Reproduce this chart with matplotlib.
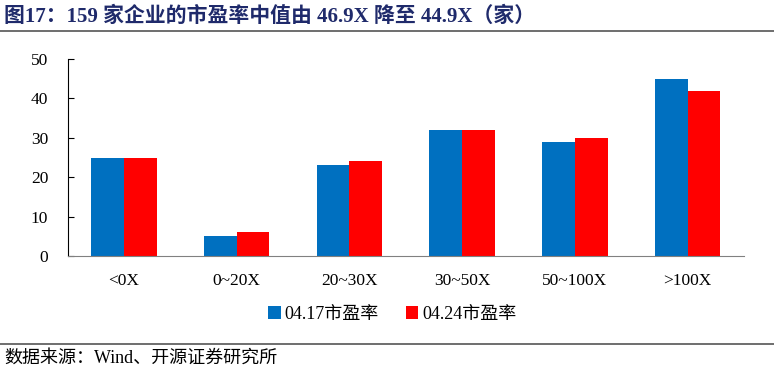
import matplotlib.pyplot as plt
import numpy as np

plt.rcParams['font.family'] = ['Liberation Serif', 'Noto Sans CJK SC', 'DejaVu Sans']

categories = ["<0X", "0~20X", "20~30X", "30~50X", "50~100X", ">100X"]
pe_0417 = [25, 5, 23, 32, 29, 45]
pe_0424 = [25, 6, 24, 32, 30, 42]
series_names = ["04.17市盈率", "04.24市盈率"]

fig = plt.figure(figsize=(7.74, 3.74), dpi=100)
ax = fig.add_axes([0.0873, 0.3155, 0.874, 0.5267])

x = np.arange(len(categories))
w = 0.29
ax.bar(x - w / 2, pe_0417, width=w, color="#0070C0", label=series_names[0])
ax.bar(x + w / 2, pe_0424, width=w, color="#FF0000", label=series_names[1])

ax.set_xlim(-0.5, len(categories) - 0.5)
ax.set_ylim(0, 50)
ax.set_yticks(range(0, 51, 10))
ax.set_xticks(x)
ax.set_xticklabels(categories, fontsize=12.5)
ax.tick_params(axis="y", direction="in", length=4, labelsize=12.5, pad=14)
ax.tick_params(axis="x", length=0, pad=12)
for s in ["top", "right"]:
    ax.spines[s].set_visible(False)
ax.spines["left"].set_color("black")
ax.spines["bottom"].set_color("#808080")

ax.legend(loc="upper center", bbox_to_anchor=(0.48, -0.17), ncol=2, frameon=False,
          fontsize=13, handlelength=0.7, handleheight=0.7, handletextpad=0.2,
          columnspacing=1.5)

fig.text(0.005, 0.955, "图17：159 家企业的市盈率中值由 46.9X 降至 44.9X（家）",
         fontsize=15, fontweight="bold", color="#1F2A6B", va="center")
fig.add_artist(plt.Line2D([0, 1], [0.917, 0.917], color="#555555", lw=1.2))
fig.add_artist(plt.Line2D([0, 1], [0.08, 0.08], color="#555555", lw=1.2))
fig.text(0.005, 0.043, "数据来源：Wind、开源证券研究所", fontsize=13, va="center")

fig.savefig("out.png", dpi=100)
